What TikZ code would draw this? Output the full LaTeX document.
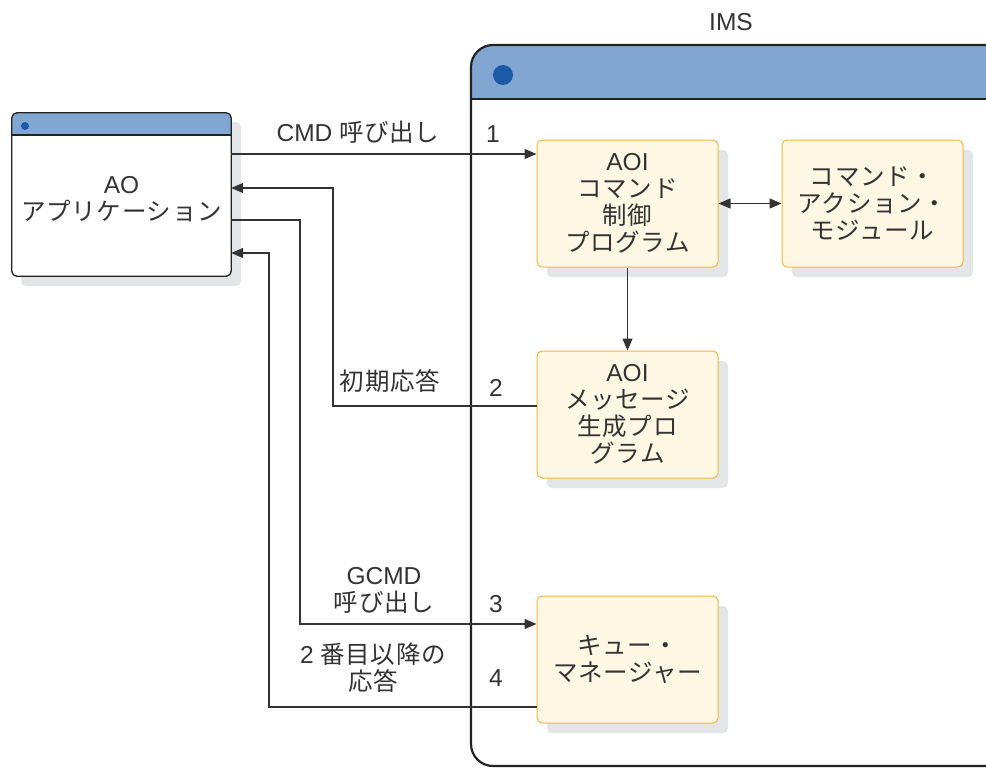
\documentclass[tikz,border=0pt]{standalone}
\usepackage{fontspec}
\setmainfont{Liberation Sans}
\newfontfamily\jp[LetterSpace=3]{Noto Sans CJK JP}
\usetikzlibrary{arrows.meta,shadows}
\definecolor{titleblue}{HTML}{82A6D2}
\definecolor{dotblue}{HTML}{1A5AA8}
\definecolor{boxfill}{HTML}{FDF7E4}
\definecolor{boxborder}{HTML}{F1B841}
\definecolor{shadowgray}{HTML}{E4E5E7}
\definecolor{linegray}{HTML}{333333}
\definecolor{framegray}{HTML}{222222}
\tikzset{
  txt/.style={font=\fontsize{24.5}{27}\selectfont, text=linegray, align=center, inner sep=0pt},
  box/.style={draw=boxborder, fill=boxfill, rounded corners=5pt, line width=1pt,
    minimum width=181pt, minimum height=127pt, inner sep=0pt,
    drop shadow={shadow xshift=10pt, shadow yshift=-10pt, opacity=1, fill=shadowgray},
    txt},
  conn/.style={draw=linegray, line width=1.2pt},
  tip/.style={-{Triangle[length=12pt,width=10pt]}},
}
\begin{document}
\begin{tikzpicture}[x=1pt,y=-1pt]
\useasboundingbox (0,0) rectangle (986,768);
\begin{scope}
\clip (0,0) rectangle (986,768);
% IMS window
\fill[white, rounded corners=22pt] (471,45) rectangle (1010,766);
\fill[titleblue] (471,99) [rounded corners=22pt] -- (471,45) -- (1010,45) [sharp corners] -- (1010,99) -- cycle;
\draw[framegray, line width=2pt] (471,99) -- (1010,99);
\draw[framegray, line width=2.2pt, rounded corners=22pt] (471,45) rectangle (1010,766);
\fill[dotblue] (503,75) circle (10);
\end{scope}
\node[txt] (imslabel) at (731,22) {IMS};

% AO window
\fill[shadowgray, rounded corners=5pt] (21,122) rectangle (241,286);
\node[minimum width=219pt, minimum height=163pt, inner sep=0pt, fill=white, rounded corners=5pt] (ao) at (121.5,194.5) {};
\fill[titleblue] (12,135) [rounded corners=5pt] -- (12,113) -- (231,113) [sharp corners] -- (231,135) -- cycle;
\draw[framegray, line width=1.3pt] (12,135) -- (231,135);
\draw[framegray, line width=1.3pt, rounded corners=5pt] (ao.north west) rectangle (ao.south east);
\fill[dotblue] (25,126) circle (4);
\node[txt] (aotext) at (121.5,199) {AO\\{\jp アプリケーション}};

% IMS boxes
\node[box] (aoicmd) at (627.5,203.5) {AOI\\{\jp コマンド}\\{\jp 制御}\\{\jp プログラム}};
\node[box] (cam) at (872.5,203.5) {{\jp コマンド・}\\{\jp アクション・}\\{\jp モジュール}};
\node[box] (aoimsg) at (627.5,414.5) {AOI\\{\jp メッセージ}\\{\jp 生成プロ}\\{\jp グラム}};
\node[box] (qm) at (627.5,659.5) {{\jp キュー・}\\{\jp マネージャー}};

% connectors
\draw[conn, tip] (ao.east |- 0,154) -- (aoicmd.west |- 0,154);
\draw[conn, tip] (aoimsg.west |- 0,406) -| (333,188) -- (ao.east |- 0,188);
\draw[conn, tip] (ao.east |- 0,220) -| (300,624) -- (qm.west |- 0,624);
\draw[conn, tip] (qm.west |- 0,707) -| (269,253) -- (ao.east |- 0,253);
\draw[conn, tip] (aoicmd.south) -- (aoimsg.north);
\draw[conn, {Triangle[length=12pt,width=10pt]}-{Triangle[length=12pt,width=10pt]}] (aoicmd.east) -- (cam.west);

% labels
\node[txt] (l1) at (358,132) {CMD {\jp 呼び出し}};
\node[txt] (n1) at (493,134) {1};
\node[txt] (l2) at (390,381) {{\jp 初期応答}};
\node[txt] (n2) at (496,388) {2};
\node[txt] (l3) at (384,590) {GCMD\\{\jp 呼び出し}};
\node[txt] (n3) at (496,604) {3};
\node[txt] (l4) at (373,668) {2 {\jp 番目以降の}\\{\jp 応答}};
\node[txt] (n4) at (496,678) {4};
\end{tikzpicture}
\end{document}
